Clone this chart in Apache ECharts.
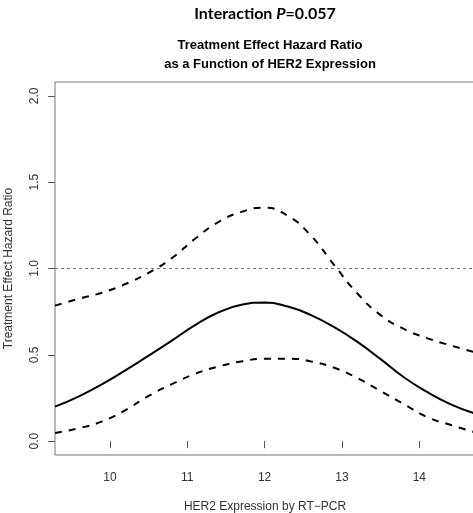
<!DOCTYPE html>
<html>
<head>
<meta charset="utf-8">
<script src="https://cdn.jsdelivr.net/npm/echarts@6/dist/echarts.min.js"></script>
<style>html,body{margin:0;padding:0;background:#fff;}#c{width:473px;height:513px;}</style>
</head>
<body>
<div id="c"></div>
<script>
var her2 = [9.29, 9.6, 9.9, 10.2, 10.5, 10.8, 11.1, 11.4, 11.7, 12.0, 12.3, 12.6, 12.9, 13.2, 13.5, 13.8, 14.1, 14.4, 14.72];
var hrEstimate = [0.20, 0.26, 0.33, 0.41, 0.495, 0.582, 0.672, 0.745, 0.79, 0.803, 0.78, 0.73, 0.66, 0.575, 0.475, 0.37, 0.285, 0.215, 0.16];
var hrUpper = [0.785, 0.825, 0.86, 0.91, 0.975, 1.06, 1.172, 1.268, 1.328, 1.352, 1.305, 1.19, 1.02, 0.855, 0.73, 0.65, 0.597, 0.555, 0.515];
var hrLower = [0.048, 0.075, 0.115, 0.18, 0.262, 0.33, 0.39, 0.432, 0.462, 0.477, 0.478, 0.462, 0.425, 0.365, 0.29, 0.215, 0.14, 0.095, 0.052];
var xTicks = [10, 11, 12, 13, 14];
var yTicks = [0, 0.5, 1.0, 1.5, 2.0];
var refLine = 1.0;

function pairs(xs, ys) { return xs.map(function (x, i) { return [x, ys[i]]; }); }

var chart = echarts.init(document.getElementById('c'), null, { renderer: 'canvas' });
var labelFont = 'Liberation Sans, Arial, sans-serif';
chart.setOption({
  animation: false,
  backgroundColor: '#fff',
  title: [
    {
      text: '{a|Interaction }{b|P}{a|=0.057}',
      left: 260, top: 1, textAlign: 'center',
      textStyle: {
        rich: {
          a: { fontFamily: 'Lato, Open Sans, sans-serif', fontWeight: 'bold', fontSize: 16, color: '#000' },
          b: { fontFamily: 'Lato, Open Sans, sans-serif', fontWeight: 'bold', fontStyle: 'italic', fontSize: 16, color: '#000' }
        }
      }
    },
    {
      text: 'Treatment Effect Hazard Ratio\nas a Function of HER2 Expression',
      left: 265, top: 31, textAlign: 'center',
      textStyle: { fontFamily: labelFont, fontWeight: 'bold', fontSize: 13, lineHeight: 19, color: '#000' }
    }
  ],
  grid: { left: 55, right: -2, top: 82, bottom: 58, containLabel: false, outerBoundsMode: 'none',
    show: true, borderColor: '#777', borderWidth: 1, backgroundColor: 'transparent' },
  xAxis: {
    type: 'value', min: 9.29, max: 14.72,
    name: 'HER2 Expression by RT\u2212PCR', nameLocation: 'middle', nameGap: 46,
    nameTextStyle: { fontFamily: labelFont, fontSize: 12, color: '#333' },
    axisLine: { show: false },
    axisTick: { show: true, length: 7, lineStyle: { color: '#555' }, customValues: xTicks },
    axisLabel: { fontFamily: labelFont, fontSize: 12, color: '#333', margin: 17, customValues: xTicks },
    splitLine: { show: false }
  },
  yAxis: {
    type: 'value', min: -0.08, max: 2.08,
    name: 'Treatment Effect Hazard Ratio', nameLocation: 'middle', nameGap: 40, nameRotate: 90,
    nameTextStyle: { fontFamily: labelFont, fontSize: 12, color: '#333' },
    axisLine: { show: false },
    axisTick: { show: true, length: 7, lineStyle: { color: '#555' }, customValues: yTicks },
    axisLabel: { fontFamily: labelFont, fontSize: 12, color: '#333', rotate: 90, margin: 14, customValues: yTicks,
      formatter: function (v) { return v.toFixed(1); } },
    splitLine: { show: false }
  },
  series: [
    {
      type: 'line', data: pairs(her2, hrEstimate), smooth: 0.5, symbol: 'none',
      lineStyle: { color: '#000', width: 2 },
      markLine: {
        silent: true, symbol: ['none', 'none'], label: { show: false },
        lineStyle: { color: '#777', width: 1, type: [3, 3] },
        data: [{ yAxis: refLine }]
      }
    },
    {
      type: 'line', data: pairs(her2, hrUpper), smooth: 0.5, symbol: 'none',
      lineStyle: { color: '#000', width: 2, type: [7, 7] }
    },
    {
      type: 'line', data: pairs(her2, hrLower), smooth: 0.5, symbol: 'none',
      lineStyle: { color: '#000', width: 2, type: [7, 7] }
    }
  ]
});
</script>
</body>
</html>
